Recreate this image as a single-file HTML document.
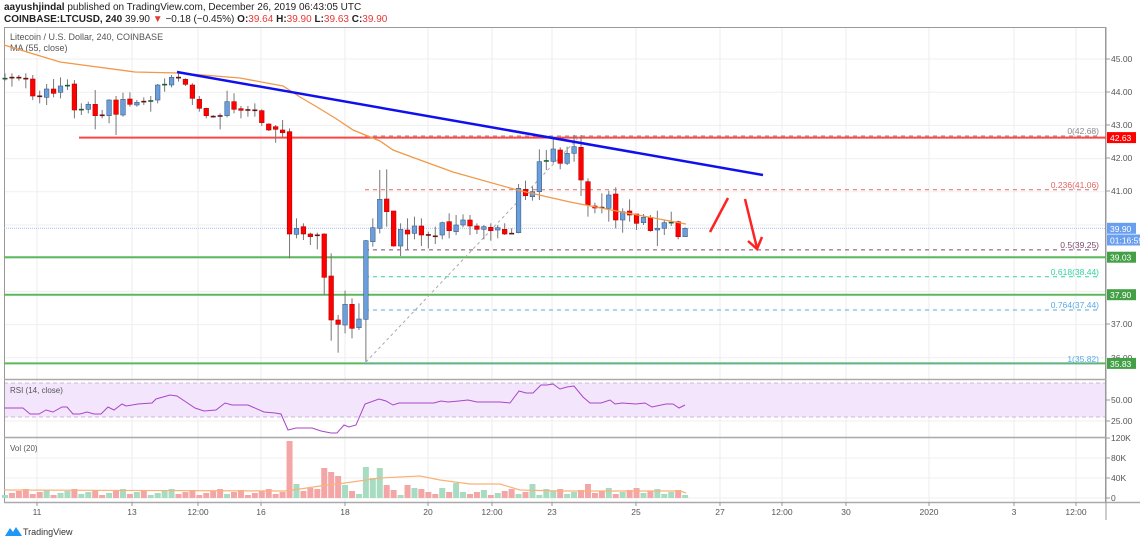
<!DOCTYPE html>
<html><head><meta charset="utf-8">
<style>
html,body{margin:0;padding:0;background:#fff;width:1140px;height:541px;overflow:hidden}
svg{display:block;font-family:"Liberation Sans",sans-serif}
</style></head><body>
<svg id="c" width="1140" height="541" viewBox="0 0 1140 541" xmlns="http://www.w3.org/2000/svg">
<text x="4" y="10" font-size="10" fill="#222"><tspan font-weight="bold">aayushjindal</tspan> published on TradingView.com, December 26, 2019 06:43:05 UTC</text>
<text x="4" y="22" font-size="10" fill="#222"><tspan font-weight="bold">COINBASE:LTCUSD, 240</tspan> 39.90 <tspan fill="#e53935">▼</tspan> −0.18 (−0.45%) <tspan font-weight="bold">O:</tspan><tspan fill="#e53935">39.64</tspan> <tspan font-weight="bold">H:</tspan><tspan fill="#e53935">39.90</tspan> <tspan font-weight="bold">L:</tspan><tspan fill="#e53935">39.63</tspan> <tspan font-weight="bold">C:</tspan><tspan fill="#e53935">39.90</tspan></text>
<g id="g"></g>
</svg>
<script>
var NS="http://www.w3.org/2000/svg",G=document.getElementById("g");
function el(t,a,txt){var e=document.createElementNS(NS,t);for(var k in a)e.setAttribute(k,a[k]);if(txt!=null)e.textContent=txt;G.appendChild(e);return e;}
function Y(p){return 59+(45-p)*33.2;}
// grid
[37,132,198,261,345,428,492,552,636,720,782,846,929,1014,1076].forEach(function(x){el("line",{x1:x,y1:27,x2:x,y2:502,stroke:"#ececec","stroke-width":1});});
for(var p=36;p<=45;p++)el("line",{x1:4,y1:Y(p),x2:1106,y2:Y(p),stroke:"#efefef"});
[400,421].forEach(function(y){el("line",{x1:4,y1:y,x2:1106,y2:y,stroke:"#efefef"});});
[438,458,478,498].forEach(function(y){el("line",{x1:4,y1:y,x2:1106,y2:y,stroke:"#efefef"});});
// RSI band
el("rect",{x:4,y:383,width:1102,height:34,fill:"#f3e5fc"});
el("line",{x1:4,y1:383,x2:1106,y2:383,stroke:"#c9b8d4","stroke-dasharray":"4,3"});
el("line",{x1:4,y1:417,x2:1106,y2:417,stroke:"#c9b8d4","stroke-dasharray":"4,3"});
// frame
el("rect",{x:4.5,y:27.5,width:1101,height:475,fill:"none",stroke:"#999"});
el("line",{x1:4,y1:379.5,x2:1106,y2:379.5,stroke:"#aaa","stroke-width":1.5});
el("line",{x1:4,y1:437.5,x2:1106,y2:437.5,stroke:"#aaa","stroke-width":1.5});
el("line",{x1:4,y1:502.5,x2:1140,y2:502.5,stroke:"#aaa","stroke-width":1.5});
el("line",{x1:1106,y1:27,x2:1106,y2:520,stroke:"#999"});
// titles
el("text",{x:10,y:40,"font-size":"9","fill":"#555"},"Litecoin / U.S. Dollar, 240, COINBASE");
el("text",{x:10,y:51,"font-size":"9","fill":"#555"},"MA (55, close)");
el("text",{x:10,y:393,"font-size":"8","fill":"#555"},"RSI (14, close)");
el("text",{x:10,y:451,"font-size":"8","fill":"#555"},"Vol (20)");
// horizontal lines
el("line",{x1:4,y1:228.3,x2:1106,y2:228.3,stroke:"#9fc3f0","stroke-dasharray":"1,1"});
el("line",{x1:79,y1:137.6,x2:1106,y2:137.6,stroke:"#f44","stroke-width":2});
[257.2,294.7,363.4].forEach(function(y){el("line",{x1:4,y1:y,x2:1106,y2:y,stroke:"#5cb85c","stroke-width":2});});
// fib
var fib=[["0(42.68)",136,"#888"],["0.236(41.06)",189.8,"#e06666"],["0.5(39.25)",249.9,"#7b4a6a"],["0.618(38.44)",276.8,"#2fd3a0"],["0.764(37.44)",310,"#5aa9e6"],["1(35.82)",363.8,"#5aa9e6"]];
fib.forEach(function(f){el("line",{x1:365,y1:f[1],x2:1100,y2:f[1],stroke:f[2],"stroke-dasharray":"4,4"});el("text",{x:1099,y:f[1]-2,"font-size":"8.5",fill:f[2],"text-anchor":"end"},f[0]);});
el("line",{x1:366,y1:362,x2:580,y2:136,stroke:"#aaa","stroke-dasharray":"3,3"});
// candles
var A=[[55,55,40,62],[52,53,40,80],[52,56,45,62],[55,57,40,85],[57,108,45,120],[108,112,92,130],[112,87,72,135],[87,100,57,112],[97,78,52,115],[80,76,58,90],[72,150,60,175],[150,148,130,165],[148,133,125,160],[133,167,90,208],[165,166,150,175],[167,120,118,190],[120,163,108,225],[165,118,98,170],[117,133,97,140],[135,127,120,140],[124,125,112,135],[124,122,108,155],[120,75,72,130],[75,73,55,95],[75,52,45,82],[52,55,38,65],[58,73,55,78],[75,115,70,135],[118,145,108,155],[145,167,143,175],[169,170,165,172],[167,169,160,208],[167,125,92,172],[125,148,100,160],[146,151,138,175],[149,150,138,170],[150,153,130,170],[152,188,148,198],[192,210,190,213],[200,208,195,248],[210,218,180,232],[215,522,205,595],[523,505,475,535],[500,522,490,540],[522,530,518,555],[525,528,518,568],[522,652,520,705],[648,780,580,842],[780,793,765,878],[795,733,692,820],[733,805,715,835],[803,777,730,810],[778,542,540,905],[545,503,475,560],[505,418,330,520]];
var B=[[237,275,148,320],[273,378,272,380],[378,328,310,408],[330,342,295,388],[340,318,290,358],[318,345,295,378],[344,348,335,385],[348,350,320,372],[345,308,305,358],[305,332,280,355],[335,315,285,345],[315,300,283,322],[300,318,285,345],[318,328,310,342],[328,320,315,358],[322,332,310,362],[330,323,315,355],[328,342,310,345],[340,341,325,342],[338,205,192,340],[208,227,182,240],[230,215,200,242],[215,125,88,240],[124,122,90,150],[124,87,55,130],[90,130,82,148],[130,100,80,135],[100,80,45,125],[82,180,45,228],[185,255,175,290],[258,264,248,280],[262,265,220,280],[265,225,212,305],[222,300,202,325],[300,275,265,338],[273,285,238,305],[282,310,282,330],[308,292,282,315],[292,332,285,335],[330,325,272,378],[325,308,300,345],[310,307,275,318],[305,350,302,358],[350,325,322,350]];
var C=[];A.forEach(function(a){C.push(a.map(function(v){return 60+v/3;}));});
B.forEach(function(a){C.push(a.map(function(v){return 120+v/3;}));});
var vol={42:57,43:14,44:7,45:10,47:30,48:26,49:22,50:13,51:7,52:4,53:31,54:20,55:30,56:13,57:8,58:3,59:13,60:10,61:9,62:6,63:4,64:10,65:6,66:15,67:6,68:4,77:14,79:9,85:14,88:10,92:10};
for(var i=0;i<C.length;i++){
 var x=5+i*6.94,c=C[i],o=c[0],cl=c[1],down=cl>o;
 el("line",{x1:x,y1:c[2],x2:x,y2:c[3],stroke:"#777","stroke-width":1});
 var t=Math.min(o,cl),h=Math.abs(cl-o);
 if(h<1.5){el("rect",{x:x-2.5,y:t-0.5,width:5,height:1.6,fill:down?"#6b1010":"#1f5a3a"});}
 else el("rect",{x:x-2.3,y:t,width:4.6,height:h,fill:down?"#f00":"#6b9fdc",stroke:down?"#b00":"#3d5f88","stroke-width":0.6});
 var vh=vol[i+1]||(3+((i*37)%7));
 el("rect",{x:x-3,y:498-vh,width:6,height:vh,fill:down?"#f4a5a5":"#a8dcc2"});
}
// MA
el("polyline",{points:"4,45 60,62 135,72 178,73 240,78 283,86 300,97 317,107 335,118 353,130 380,141 393,150 420,160 453,172 517,190 570,202 627,213 686,224",fill:"none",stroke:"#f0994a","stroke-width":1.3});
// vol MA
el("polyline",{points:"4,490 285,491 300,489 320,486 345,483 380,478 420,476 440,480 470,484 500,484 520,490 560,491 680,491 686,493",fill:"none",stroke:"#f9b27a","stroke-width":1.2});
// RSI
el("polyline",{points:"4.6,408 23,408 30,414 39,414 46,410 53,412 62,407 67,407 73,414 80,414 87,412 94,414 101,414 108,407 114,410 122,404 126,406 138,404 152,403 156,399 163,397 170,395 177,396 186,402 195,408 204,411 216,410 225,403 232,405 248,405 264,412 275,413 281,414 288,430 296,428 312,428 321,431 331,433 337,433 344,425 349,427 356,425 365,404 379,399 386,401 393,405 399,403 413,403 427,403 434,403 441,401 448,402 459,401 468,400 477,402 500,402 510,403 519,391 526,393 533,393 541,385 547,385 553,384 560,389 567,387 574,386 583,397 590,403 601,403 610,400 615,404 622,403 636,404 645,403 652,407 666,404 673,404 679,408 685,405",fill:"none",stroke:"#a846c8","stroke-width":1});
// trendline
el("line",{x1:177,y1:72,x2:763,y2:175,stroke:"#1010ee","stroke-width":2.5});
// arrows
el("line",{x1:710,y1:232,x2:728,y2:198,stroke:"#f22","stroke-width":2.5});
el("line",{x1:745,y1:199,x2:757,y2:248,stroke:"#f22","stroke-width":2.5});
el("polyline",{points:"748,241 757,249 762,237",fill:"none",stroke:"#f22","stroke-width":2.5});
// axis labels
[[45,59],[44,92],[43,125],[42,158],[41,191],[37,324]].forEach(function(a){el("line",{x1:1106,y1:a[1],x2:1110,y2:a[1],stroke:"#999"});el("text",{x:1111,y:a[1]+3,"font-size":"8.5",fill:"#555"},a[0].toFixed(2));});
el("text",{x:1111,y:361,"font-size":"8.5",fill:"#555"},"36.00");
[["50.00",400],["25.00",421],["120K",438],["80K",458],["40K",478],["0",498]].forEach(function(a){el("line",{x1:1106,y1:a[1],x2:1110,y2:a[1],stroke:"#999"});el("text",{x:1111,y:a[1]+3,"font-size":"8.5",fill:"#555"},a[0]);});
function badge(t,y,c,w){el("rect",{x:1107,y:y-5.5,width:w||29,height:11,fill:c});el("text",{x:1110,y:y+3.5,"font-size":"8.5",fill:"#fff"},t);}
badge("42.63",137.6,"#f00");badge("39.90",228.3,"#6a9ff0");badge("01:16:59",240,"#6a9ff0",33);
badge("39.03",257.2,"#43a047");badge("37.90",294.7,"#43a047");badge("35.83",363.4,"#43a047");
[["11",37],["13",132],["12:00",198],["16",261],["18",345],["20",428],["12:00",492],["23",552],["25",636],["27",720],["12:00",782],["30",846],["2020",929],["3",1014],["12:00",1076]].forEach(function(a){el("line",{x1:a[1],y1:502,x2:a[1],y2:506,stroke:"#999"});el("text",{x:a[1],y:515,"font-size":"8.5",fill:"#555","text-anchor":"middle"},a[0]);});
// footer
el("path",{d:"M5,536 L10,528 L13,532 L16,527 L22,536 Z",fill:"#2196f3"});
el("text",{x:23,y:535,"font-size":"9",fill:"#333"},"TradingView");
</script>
</body></html>
